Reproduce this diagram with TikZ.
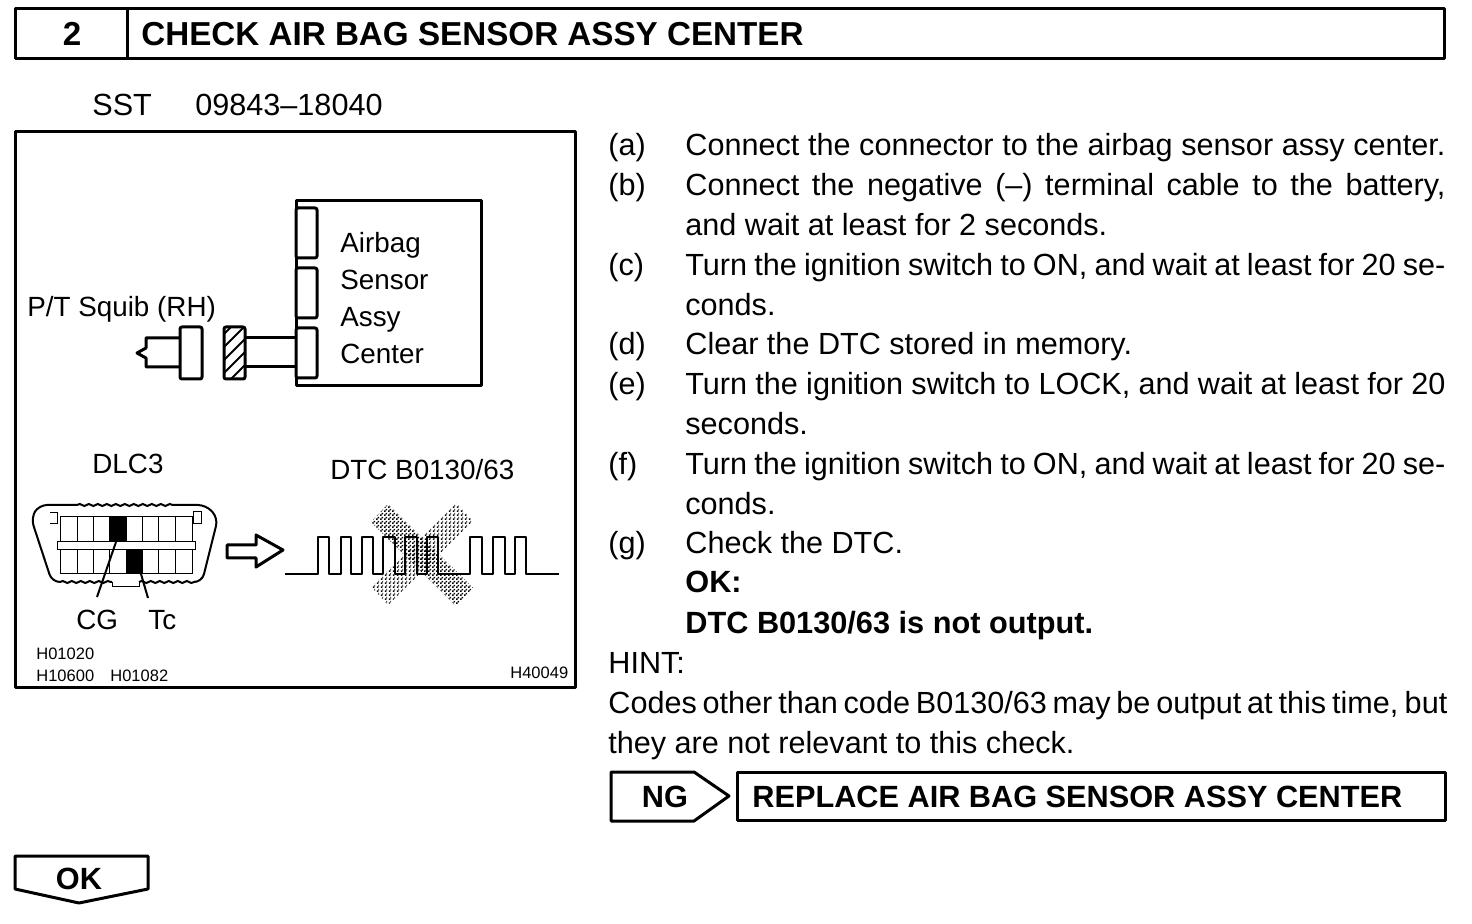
\documentclass[tikz,border=0pt]{standalone}
\usepackage{fontspec}
\setmainfont{Liberation Sans}
\usetikzlibrary{patterns,decorations.pathmorphing}
\pgfdeclarepatternformonly{dithera}{\pgfqpoint{0pt}{0pt}}{\pgfqpoint{2pt}{2pt}}{\pgfqpoint{2pt}{2pt}}{
  \pgfpathrectangle{\pgfqpoint{0pt}{0pt}}{\pgfqpoint{0.95pt}{0.95pt}}
  \pgfpathrectangle{\pgfqpoint{1pt}{1pt}}{\pgfqpoint{0.95pt}{0.95pt}}
  \pgfusepath{fill}
}
\pgfdeclarepatternformonly{ditherb}{\pgfqpoint{0pt}{0pt}}{\pgfqpoint{2pt}{2pt}}{\pgfqpoint{2pt}{2pt}}{
  \pgfpathrectangle{\pgfqpoint{0.5pt}{0pt}}{\pgfqpoint{0.95pt}{0.95pt}}
  \pgfpathrectangle{\pgfqpoint{1.5pt}{1pt}}{\pgfqpoint{0.5pt}{0.95pt}}
  \pgfusepath{fill}
}
\newcommand{\spreadline}[2]{\makebox[#1][s]{#2}}
\tikzset{
  outline/.style = {draw=black, line width=1.5pt, line join=round},
  thinline/.style = {draw=black, line width=0.5pt},
  shellline/.style = {draw=black, line width=1pt},
  bumpline/.style = {shellline, decorate, decoration={snake, amplitude=0.5pt, segment length=4.5pt}},
  txt/.style = {anchor=base west, inner sep=0pt, yshift=-0.5pt, font=\fontsize{15.3}{18}\selectfont},
  boldtxt/.style = {txt, font=\fontsize{15.35}{18}\selectfont\bfseries},
  figtxt/.style = {anchor=base west, inner sep=0pt, yshift=-0.5pt, font=\fontsize{13.9}{17}\selectfont},
  tinytxt/.style = {anchor=base west, inner sep=0pt, yshift=-0.5pt, font=\fontsize{8.25}{10}\selectfont},
  headtxt/.style = {anchor=base west, inner sep=0pt, yshift=-0.5pt, font=\fontsize{16.6}{20}\selectfont\bfseries},
  resulttxt/.style = {headtxt, font=\fontsize{15.35}{18}\selectfont\bfseries},
  termbox/.style = {outline, fill=white, rounded corners=1pt},
}
\begin{document}
\begin{tikzpicture}[x=0.5pt, y=-0.5pt]
\useasboundingbox (0,0) rectangle (1472,924);
% header bar
\draw [outline] (15,9) rectangle (1444,59);
\draw [outline] (127,9) -- (127,59);
\node [headtxt, anchor=base] (stepno) at (72,45) {2};
\node [headtxt] (title) at (141,45) {CHECK AIR BAG SENSOR ASSY CENTER};
\node [txt] (sst) at (92,115) {SST};
\node [txt] (sstno) at (195,115) {09843--18040};
% figure frame
\draw [outline] (15,132) rectangle (575,687);
% airbag sensor
\draw [outline] (296,201) rectangle (481,386);
\draw [termbox] (296,208) rectangle (317,258);
\draw [termbox] (296,268) rectangle (317,318);
\draw [termbox] (296,328) rectangle (317,378);
\node [figtxt] (airbag) at (340,252) {Airbag};
\node [figtxt] (sensor) at (340,289) {Sensor};
\node [figtxt] (assy) at (340,326) {Assy};
\node [figtxt] (center) at (340,363) {Center};
\node [figtxt] (squib) at (27,316) {P/T Squib (RH)};
% squib connector
\draw [outline] (245,338) -- (296,338) (245,367) -- (296,367);
\begin{scope}
  \clip (224,327) rectangle (245,379);
  \foreach \hatchy in {336,349,362,375,388,401} {
    \draw [line width=1pt] (222,\hatchy) -- (247,\hatchy-25);
  }
\end{scope}
\draw [outline, rounded corners=1pt] (224,327) rectangle (245,379);
\draw [outline] (180,338) -- (146,338) -- (146,348) -- (137,353) -- (146,358) -- (146,367) -- (180,367);
\draw [termbox] (180,327) rectangle (202,379);
% DLC3
\node [figtxt] (dlc) at (92,473) {DLC3};
\draw [shellline, rounded corners=4pt] (77,505) -- (39,505) -- (31,518) -- (52,582) -- (60,582);
\draw [shellline, rounded corners=4pt] (177,505) -- (206,505) -- (218,518) -- (202,582) -- (195,582);
\draw [bumpline] (77,505) -- (177,505);
\draw [bumpline] (60,582) -- (112,582);
\draw [bumpline] (139,582) -- (195,582);
\draw [thinline] (112,582) -- (112,587) -- (139,587) -- (139,582);
\draw [thinline] (60,517) rectangle (192,542);
\draw [thinline] (60,550) rectangle (192,574);
\foreach \cellx in {77,93,109,126,142,158,175} {
  \draw [thinline] (\cellx,517) -- (\cellx,542);
  \draw [thinline] (\cellx,550) -- (\cellx,574);
}
\draw [thinline] (57,542) rectangle (195,550);
\draw [thinline] (50,513) -- (57,513) -- (57,524) -- (50,524);
\draw [thinline] (193,512) rectangle (201,524);
\fill (109,517) rectangle (126,542);
\fill (126,550) rectangle (142,574);
\coordinate (cgpin) at (116,542);
\coordinate (tcpin) at (141,574);
\coordinate (cgend) at (97,597);
\coordinate (tcend) at (148,598);
\draw [shellline] (cgpin) -- (cgend);
\draw [shellline] (tcpin) -- (tcend);
\node [figtxt] (cg) at (76,629) {CG};
\node [figtxt] (tc) at (148,629) {Tc};
\node [tinytxt] (hone) at (36,658) {H01020};
\node [tinytxt] (htwo) at (36,680) {H10600};
\node [tinytxt] (hthree) at (110,680) {H01082};
\node [tinytxt] (hfour) at (510,677) {H40049};
\draw [outline] (227,545) -- (256,545) -- (256,535) -- (283,550) -- (256,567) -- (256,558) -- (227,558) -- cycle;
% waveform
\node [figtxt] (dtc) at (330,479) {DTC B0130/63};
\fill [pattern=dithera] (388,504) -- (473,588) -- (456,606) -- (371,522) -- cycle;
\fill [pattern=ditherb] (456,503) -- (473,521) -- (388,605) -- (371,587) -- cycle;
\draw [shellline, line join=round] (285,574) -- (318,574) -- (318,537) -- (329,537) -- (329,574)
  -- (341,574) -- (341,537) -- (351,537) -- (351,574) -- (362,574) -- (362,537) -- (373,537) -- (373,574)
  -- (383,574) -- (383,537) -- (395,537) -- (395,574) -- (405,574) -- (405,537) -- (417,537) -- (417,574)
  -- (427,574) -- (427,537) -- (438,537) -- (438,574) -- (470,574) -- (470,537) -- (482,537) -- (482,574)
  -- (493,574) -- (493,537) -- (505,537) -- (505,574) -- (515,574) -- (515,537) -- (526,537) -- (526,574) -- (559,574);
% procedure text
\node [txt] (la) at (608,155) {(a)};
\node [txt] (ta) at (685,155) {\spreadline{380pt}{Connect the connector to the airbag sensor assy center.}};
\node [txt] (lb) at (608,195) {(b)};
\node [txt] (tb) at (685,195) {\spreadline{380pt}{Connect the negative (--) terminal cable to the battery,}};
\node [txt] (tbb) at (685,235) {and wait at least for 2 seconds.};
\node [txt] (lc) at (608,275) {(c)};
\node [txt] (tc1) at (685,275) {\spreadline{380pt}{Turn the ignition switch to ON, and wait at least for 20 se-}};
\node [txt] (tcc) at (685,315) {conds.};
\node [txt] (ld) at (608,354) {(d)};
\node [txt] (td) at (685,354) {Clear the DTC stored in memory.};
\node [txt] (le) at (608,394) {(e)};
\node [txt] (te) at (685,394) {\spreadline{380pt}{Turn the ignition switch to LOCK, and wait at least for 20}};
\node [txt] (tee) at (685,434) {seconds.};
\node [txt] (lf) at (608,474) {(f)};
\node [txt] (tf) at (685,474) {\spreadline{380pt}{Turn the ignition switch to ON, and wait at least for 20 se-}};
\node [txt] (tff) at (685,514) {conds.};
\node [txt] (lg) at (608,553) {(g)};
\node [txt] (tg) at (685,553) {Check the DTC.};
\node [boldtxt] (okhead) at (685,592) {OK:};
\node [boldtxt] (oktext) at (685,632) {DTC B0130/63 is not output.};
\node [txt] (hint) at (608,672) {HINT:};
\node [txt] (hinta) at (608,712) {\spreadline{419.5pt}{Codes other than code B0130/63 may be output at this time, but}};
\node [txt] (hintb) at (608,752) {they are not relevant to this check.};
% result boxes
\draw [outline] (611,772) -- (694,772) -- (729,796) -- (694,821) -- (611,821) -- cycle;
\node [resulttxt, anchor=base] (ng) at (665,806) {NG};
\draw [outline] (737,772) rectangle (1445,820);
\node [resulttxt] (replace) at (752,806) {REPLACE AIR BAG SENSOR ASSY CENTER};
\draw [outline] (15,856) -- (148,856) -- (148,889) -- (79,903) -- (15,889) -- cycle;
\node [resulttxt, anchor=base] (okbox) at (79,888) {OK};
\end{tikzpicture}
\end{document}
